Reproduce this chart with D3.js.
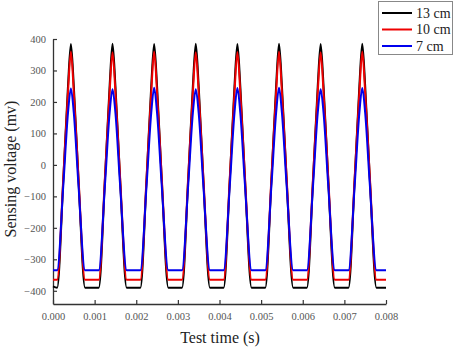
<!DOCTYPE html>
<html>
<head>
<meta charset="utf-8">
<script src="https://cdn.jsdelivr.net/npm/d3@7/dist/d3.min.js"></script>
<style>
  html, body { margin: 0; padding: 0; background: #fff; }
  svg { display: block; }
  text { font-family: "Liberation Serif", "Times New Roman", serif; }
</style>
</head>
<body>
<svg id="chart" width="454" height="349"></svg>
<script>
// ---- data ----
const seriesNames = ["13 cm", "10 cm", "7 cm"];
const seriesColors = ["#000000", "#ee0000", "#0000ee"];

const time = [
  0.00000,
  0.00010, 0.00025, 0.00036, 0.00043, 0.00050, 0.00061, 0.00077,
  0.00110, 0.00125, 0.00136, 0.00143, 0.00150, 0.00161, 0.00177,
  0.00210, 0.00225, 0.00236, 0.00243, 0.00250, 0.00261, 0.00277,
  0.00310, 0.00325, 0.00336, 0.00343, 0.00350, 0.00361, 0.00377,
  0.00410, 0.00425, 0.00436, 0.00443, 0.00450, 0.00461, 0.00477,
  0.00510, 0.00525, 0.00536, 0.00543, 0.00550, 0.00561, 0.00577,
  0.00610, 0.00625, 0.00636, 0.00643, 0.00650, 0.00661, 0.00677,
  0.00710, 0.00725, 0.00736, 0.00743, 0.00750, 0.00761, 0.00777,
  0.00800
];

const v13 = [
  -386,
  -390, -40, 250, 384, 250, -40, -390,
  -390, -40, 250, 385, 250, -40, -390,
  -390, -40, 250, 384, 250, -40, -390,
  -390, -40, 250, 385, 250, -40, -390,
  -390, -40, 250, 384, 250, -40, -390,
  -390, -40, 250, 385, 250, -40, -390,
  -390, -40, 250, 384, 250, -40, -390,
  -390, -40, 250, 385, 250, -40, -390,
  -390
];

const v10 = [
  -365,
  -365, -35, 230, 360, 230, -35, -365,
  -365, -35, 230, 358, 230, -35, -365,
  -365, -35, 230, 360, 230, -35, -365,
  -365, -35, 230, 358, 230, -35, -365,
  -365, -35, 230, 359, 230, -35, -365,
  -365, -35, 230, 360, 230, -35, -365,
  -365, -35, 230, 358, 230, -35, -365,
  -365, -35, 230, 360, 230, -35, -365,
  -365
];

const v7 = [
  -335,
  -335, -60, 165, 243, 165, -60, -335,
  -335, -60, 165, 240, 165, -60, -335,
  -335, -60, 165, 245, 165, -60, -335,
  -335, -60, 165, 240, 165, -60, -335,
  -335, -60, 165, 244, 165, -60, -335,
  -335, -60, 165, 245, 165, -60, -335,
  -335, -60, 165, 240, 165, -60, -335,
  -335, -60, 165, 244, 165, -60, -335,
  -335
];

const xTicks = [0, 0.001, 0.002, 0.003, 0.004, 0.005, 0.006, 0.007, 0.008];
const yTicks = [-400, -300, -200, -100, 0, 100, 200, 300, 400];

// ---- layout ----
const svg = d3.select("#chart");
const mLeft = 53, mRight = 386, mTop = 39, mBottom = 304;
const serif = "'Liberation Serif', 'Times New Roman', serif";

const x = d3.scaleLinear().domain([0, 0.008]).range([mLeft, mRight]);
const y = d3.scaleLinear().domain([-442, 400]).range([mBottom, mTop]);

const axisColor = "#333";
const tickColor = "#555";

// x axis
const xAxis = svg.append("g")
  .attr("transform", `translate(0,${mBottom})`)
  .call(d3.axisBottom(x).tickValues(xTicks).tickFormat(d3.format(".3f"))
    .tickSizeInner(-4).tickSizeOuter(0).tickPadding(9));
xAxis.attr("font-family", serif).attr("font-size", 10.5);
xAxis.select(".domain").attr("stroke", axisColor).attr("stroke-width", 1.3);
xAxis.selectAll(".tick line").attr("stroke", axisColor).attr("stroke-width", 1.2);
xAxis.selectAll(".tick text").attr("fill", tickColor);

// y axis
const yAxis = svg.append("g")
  .attr("transform", `translate(${mLeft},0)`)
  .call(d3.axisLeft(y).tickValues(yTicks).tickFormat(d3.format("d"))
    .tickSizeInner(-4).tickSizeOuter(0).tickPadding(7));
yAxis.attr("font-family", serif).attr("font-size", 10.5);
yAxis.select(".domain").attr("stroke", axisColor).attr("stroke-width", 1.3);
yAxis.selectAll(".tick line").attr("stroke", axisColor).attr("stroke-width", 1.2);
yAxis.selectAll(".tick text").attr("fill", tickColor);

// axis titles
svg.append("text")
  .attr("x", 220).attr("y", 343)
  .attr("text-anchor", "middle")
  .attr("fill", "#222")
  .attr("font-family", serif)
  .attr("font-size", 16)
  .text("Test time (s)");

svg.append("text")
  .attr("transform", `translate(16,169) rotate(-90)`)
  .attr("text-anchor", "middle")
  .attr("fill", "#222")
  .attr("font-family", serif)
  .attr("font-size", 16)
  .text("Sensing voltage (mv)");

// lines
const seriesValues = [v13, v10, v7];
const line = d3.line()
  .x((d, i) => x(time[i]))
  .y(d => y(d))
  .curve(d3.curveMonotoneX);

seriesValues.forEach((vals, si) => {
  svg.append("path")
    .datum(vals)
    .attr("fill", "none")
    .attr("stroke", seriesColors[si])
    .attr("stroke-width", 2)
    .attr("stroke-linejoin", "round")
    .attr("d", line);
});

// legend
const lg = svg.append("g");
lg.append("rect")
  .attr("x", 378.5).attr("y", 1.5).attr("width", 74).attr("height", 53)
  .attr("fill", "#fff").attr("stroke", "#888").attr("stroke-width", 1);
seriesNames.forEach((name, i) => {
  const yy = 13 + i * 16.5;
  lg.append("line")
    .attr("x1", 382).attr("x2", 412).attr("y1", yy).attr("y2", yy)
    .attr("stroke", seriesColors[i]).attr("stroke-width", 2);
  lg.append("text")
    .attr("x", 416).attr("y", yy + 4.5)
    .attr("fill", "#222")
    .attr("font-family", serif)
    .attr("font-size", 14)
    .text(name);
});
</script>
</body>
</html>
